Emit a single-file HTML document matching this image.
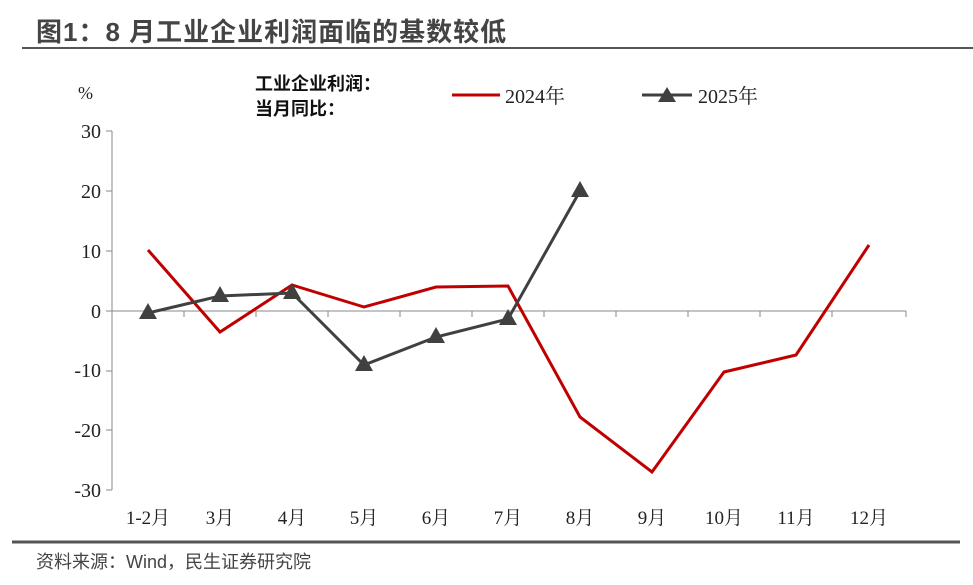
<!DOCTYPE html>
<html><head><meta charset="utf-8"><style>
body{margin:0;background:#fff;width:973px;height:585px;overflow:hidden}
</style></head><body>
<svg width="973" height="585" xmlns="http://www.w3.org/2000/svg" style="position:absolute;left:0;top:0">
<text x="36" y="41" font-family="Liberation Sans,Noto Sans CJK SC,sans-serif" font-size="26" font-weight="bold" fill="#444" letter-spacing="1">图1：8 月工业企业利润面临的基数较低</text>
<line x1="22" y1="48" x2="973" y2="48" stroke="#555" stroke-width="2"/>
<text x="78" y="99" font-family="Liberation Serif,serif" font-size="18" fill="#222">%</text>
<text x="255" y="90" font-family="Liberation Sans,Noto Sans CJK SC,sans-serif" font-size="18" font-weight="bold" fill="#111">工业企业利润：</text>
<text x="255" y="115" font-family="Liberation Sans,Noto Sans CJK SC,sans-serif" font-size="18" font-weight="bold" fill="#111">当月同比：</text>
<line x1="452" y1="95" x2="500" y2="95" stroke="#c00000" stroke-width="3"/>
<text x="505" y="103" font-family="Liberation Serif,Noto Serif CJK SC,serif" font-size="20" fill="#222">2024年</text>
<line x1="642" y1="95" x2="692" y2="95" stroke="#404040" stroke-width="3"/>
<polygon points="667,87 676,102 658,102" fill="#404040"/>
<text x="698" y="103" font-family="Liberation Serif,Noto Serif CJK SC,serif" font-size="20" fill="#222">2025年</text>
<g font-family="Liberation Serif,serif" font-size="20" fill="#222" text-anchor="end">
<text x="101" y="138">30</text><text x="101" y="198">20</text><text x="101" y="258">10</text><text x="101" y="318">0</text>
<text x="101" y="377">-10</text><text x="101" y="437">-20</text><text x="101" y="497">-30</text>
</g>
<g stroke="#888" stroke-width="1">
<line x1="112" y1="131" x2="112" y2="490"/>
<line x1="106" y1="131" x2="112" y2="131"/><line x1="106" y1="191" x2="112" y2="191"/><line x1="106" y1="251" x2="112" y2="251"/><line x1="106" y1="311" x2="112" y2="311"/><line x1="106" y1="371" x2="112" y2="371"/><line x1="106" y1="430" x2="112" y2="430"/><line x1="106" y1="490" x2="112" y2="490"/>
<line x1="112" y1="311" x2="906" y2="311"/>
<line x1="184" y1="311" x2="184" y2="317"/><line x1="256" y1="311" x2="256" y2="317"/><line x1="328" y1="311" x2="328" y2="317"/><line x1="400" y1="311" x2="400" y2="317"/><line x1="472" y1="311" x2="472" y2="317"/><line x1="544" y1="311" x2="544" y2="317"/><line x1="616" y1="311" x2="616" y2="317"/><line x1="688" y1="311" x2="688" y2="317"/><line x1="760" y1="311" x2="760" y2="317"/><line x1="832" y1="311" x2="832" y2="317"/><line x1="906" y1="311" x2="906" y2="317"/>
</g>
<g font-family="Liberation Serif,Noto Serif CJK SC,serif" font-size="19" fill="#222" text-anchor="middle">
<text x="148" y="524">1-2月</text><text x="220" y="524">3月</text><text x="292" y="524">4月</text><text x="364" y="524">5月</text><text x="436" y="524">6月</text><text x="508" y="524">7月</text><text x="580" y="524">8月</text><text x="652" y="524">9月</text><text x="724" y="524">10月</text><text x="796" y="524">11月</text><text x="869" y="524">12月</text>
</g>
<polyline fill="none" stroke="#c00000" stroke-width="3" points="148,250 220,332 292,285 364,307 436,287 508,286 580,417 652,472 724,372 796,355 869,245"/>
<polyline fill="none" stroke="#404040" stroke-width="3" points="148,313 220,296 292,293 364,365 436,337 508,319 580,191"/>
<g fill="#404040">
<polygon points="148,303 157,319 139,319"/><polygon points="220,286 229,302 211,302"/><polygon points="292,283 301,299 283,299"/><polygon points="364,355 373,371 355,371"/><polygon points="436,327 445,343 427,343"/><polygon points="508,309 517,325 499,325"/><polygon points="580,181 589,197 571,197"/>
</g>
<line x1="12" y1="542" x2="960" y2="542" stroke="#555" stroke-width="3"/>
<text x="36" y="568" font-family="Liberation Sans,Noto Sans CJK SC,sans-serif" font-size="18" fill="#444">资料来源：Wind，民生证券研究院</text>
</svg>
</body></html>
